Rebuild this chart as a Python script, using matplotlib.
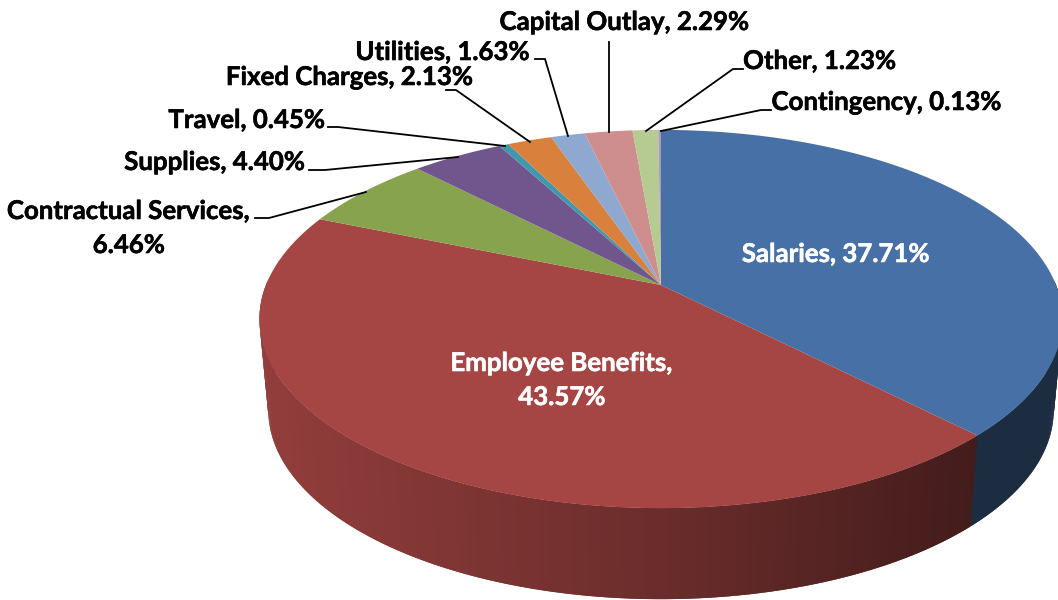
import numpy as np
import matplotlib
matplotlib.use("Agg")
import matplotlib.pyplot as plt
import matplotlib.patheffects as pe

categories = ["Salaries", "Employee Benefits", "Contractual Services", "Supplies", "Travel",
              "Fixed Charges", "Utilities", "Capital Outlay", "Other", "Contingency"]
values = [37.71, 43.57, 6.46, 4.40, 0.45, 2.13, 1.63, 2.29, 1.23, 0.13]
labels = ["Salaries, 37.71%", "Employee Benefits,\n43.57%", "Contractual Services,\n6.46%",
          "Supplies, 4.40%", "Travel, 0.45%", "Fixed Charges, 2.13%", "Utilities, 1.63%",
          "Capital Outlay, 2.29%", "Other, 1.23%", "Contingency, 0.13%"]
colors = ["#4770A6", "#A64644", "#87A34D", "#71568E", "#4098AF", "#D9813C",
          "#8FA8CF", "#CE8E8D", "#B5CB92", "#A99BBD"]

# layout (reference pixels)
CX, CY, A, B, K = 661.0, 285.0, 395.0, 183.0, 0.18
SX, DEPTH = 0.978, 91.0
label_pos = [(836, 254), (562, 380), (129, 228), (215, 162), (247, 120), (350, 77),
             (443, 52), (625, 22), (820, 61), (887, 102)]
label_col = ["white", "white"] + ["black"] * 8
leaders = {
    2: [(255, 218), (269, 218), (366, 192)],
    3: [(309, 170), (325, 170), (458, 157)],
    4: [(328, 127), (338, 127), (505, 146)],
    5: [(446, 90), (456, 90), (530, 142)],
    6: [(535, 59), (545, 59), (568, 136)],
    7: [(609, 42), (609, 132)],
    8: [(743, 69), (733, 69), (646, 131)],
    9: [(771, 110), (761, 110), (661, 131)],
}


def top_edge(theta):
    x, y = np.sin(theta), np.cos(theta)
    w = 1 + K * y
    return CX + A * x / w, CY - B * y / w


def bottom_edge(theta):
    X, Y = top_edge(theta)
    return CX + (X - CX) * SX, Y + DEPTH


def side_factor(x):
    return np.interp(x, [260, 660, 980, 1060], [0.88, 0.64, 0.40, 0.40])


def scaled(hex_col, f):
    rgb = np.array(matplotlib.colors.to_rgb(hex_col))
    return tuple(rgb * f)


fig = plt.figure(figsize=(10.58, 6.0), dpi=100)
ax = fig.add_axes([0, 0, 1, 1])
ax.set_xlim(0, 1058)
ax.set_ylim(600, 0)
ax.axis("off")

edges = np.cumsum([0] + values) / sum(values) * 2 * np.pi

# side wall: front-facing part only, each strip overlapped by the next one
step = 0.012
for i, col in enumerate(colors):
    n = max(2, int((edges[i + 1] - edges[i]) / step))
    th = np.linspace(edges[i], edges[i + 1], n + 1)
    for t0, t1 in zip(th[:-1], th[1:]):
        if np.cos(t0) > 0.02 and np.cos(t1) > 0.02:
            continue
        t_over = t1 + step
        x0, y0 = top_edge(t0)
        x1, y1 = top_edge(t_over)
        x2, y2 = bottom_edge(t_over)
        x3, y3 = bottom_edge(t0)
        xm = top_edge((t0 + t1) / 2)[0]
        f = 0.40 if i == 0 else side_factor(xm)
        ax.fill([x0, x1, x2, x3], [y0, y1, y2, y3], color=scaled(col, f), lw=0, zorder=1)

# top face
for i, col in enumerate(colors):
    th = np.linspace(edges[i], edges[i + 1], max(3, int((edges[i + 1] - edges[i]) / 0.005)))
    xs, ys = top_edge(th)
    ax.fill(np.r_[CX, xs], np.r_[CY, ys], color=col, lw=0, zorder=2)

# leader lines
for idx, pts in leaders.items():
    px, py = zip(*pts)
    ax.plot(px, py, color="black", lw=1.3, zorder=3, solid_joinstyle="miter")

# labels
for txt, (x, y), c in zip(labels, label_pos, label_col):
    t = ax.text(x, y, txt, color=c, ha="center", va="center", family="Lato",
                fontweight="bold", fontsize=18.6, linespacing=1.5, zorder=4)
    t.set_path_effects([pe.withStroke(linewidth=0.4, foreground=c)])

fig.savefig("out.png", dpi=100)
